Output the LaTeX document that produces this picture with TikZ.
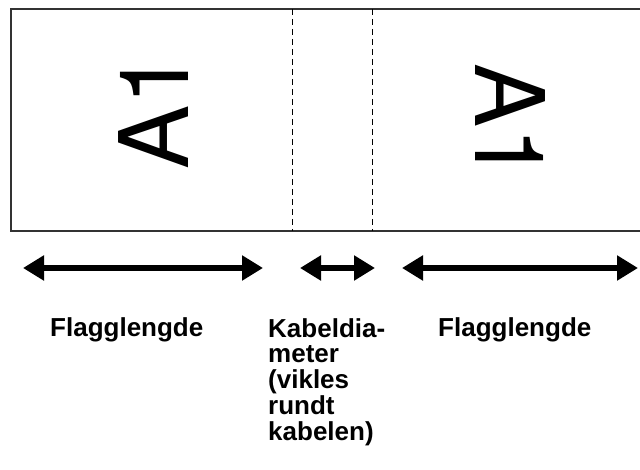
\documentclass[tikz,border=0pt]{standalone}
\usepackage{fontspec}
\setmainfont{Liberation Sans}
\newfontfamily\tagfont{TeX Gyre Heros}
\usetikzlibrary{positioning, arrows.meta}

\begin{document}
\begin{tikzpicture}[x=1pt, y=-1pt,
    tagtext/.style={font=\tagfont\fontsize{96}{96}\selectfont, inner sep=0pt},
    lentext/.style={font=\bfseries\fontsize{26}{25.75}\selectfont, inner sep=0pt, align=left},
    foldline/.style={dash pattern=on 6pt off 4pt, line width=1pt},
    dimarrow/.style={line width=5.5pt,
        {Triangle[length=21pt,width=24pt]}-{Triangle[length=21pt,width=24pt]}}]
    \useasboundingbox (0,0) rectangle (640,470);

    % Flag label strip (runs off the right edge)
    \draw[line width=2pt, black!80] (11,9) rectangle (660,231);
    \coordinate (f1t) at (292,9);   \coordinate (f1b) at (292,231);
    \coordinate (f2t) at (372,9);   \coordinate (f2b) at (372,231);
    \draw[foldline] (f1t) -- (f1b);
    \draw[foldline] (f2t) -- (f2b);

    % Printed text on both flags
    \node[tagtext, rotate=90, anchor=base west] (tagL) at (188,170) {A1};
    \node[tagtext, rotate=-90, anchor=base west] (tagR) at (475,63) {A1};

    % Dimension arrows
    \coordinate (aL1) at (23,268);  \coordinate (aL2) at (263,268);
    \coordinate (aM1) at (300,268); \coordinate (aM2) at (375,268);
    \coordinate (aR1) at (402,268); \coordinate (aR2) at (638,268);
    \draw[dimarrow] (aL1) -- (aL2);
    \draw[dimarrow] (aM1) -- (aM2);
    \draw[dimarrow] (aR1) -- (aR2);

    % Labels
    \node[lentext, anchor=base west] (lenL) at (50,337) {Flagglengde};
    \node[lentext, anchor=north west] (lenM) at (268,318)
        {Kabeldia-\\meter\\(vikles\\rundt\\kabelen)};
    \node[lentext, anchor=base west] (lenR) at (438,337) {Flagglengde};
\end{tikzpicture}
\end{document}
